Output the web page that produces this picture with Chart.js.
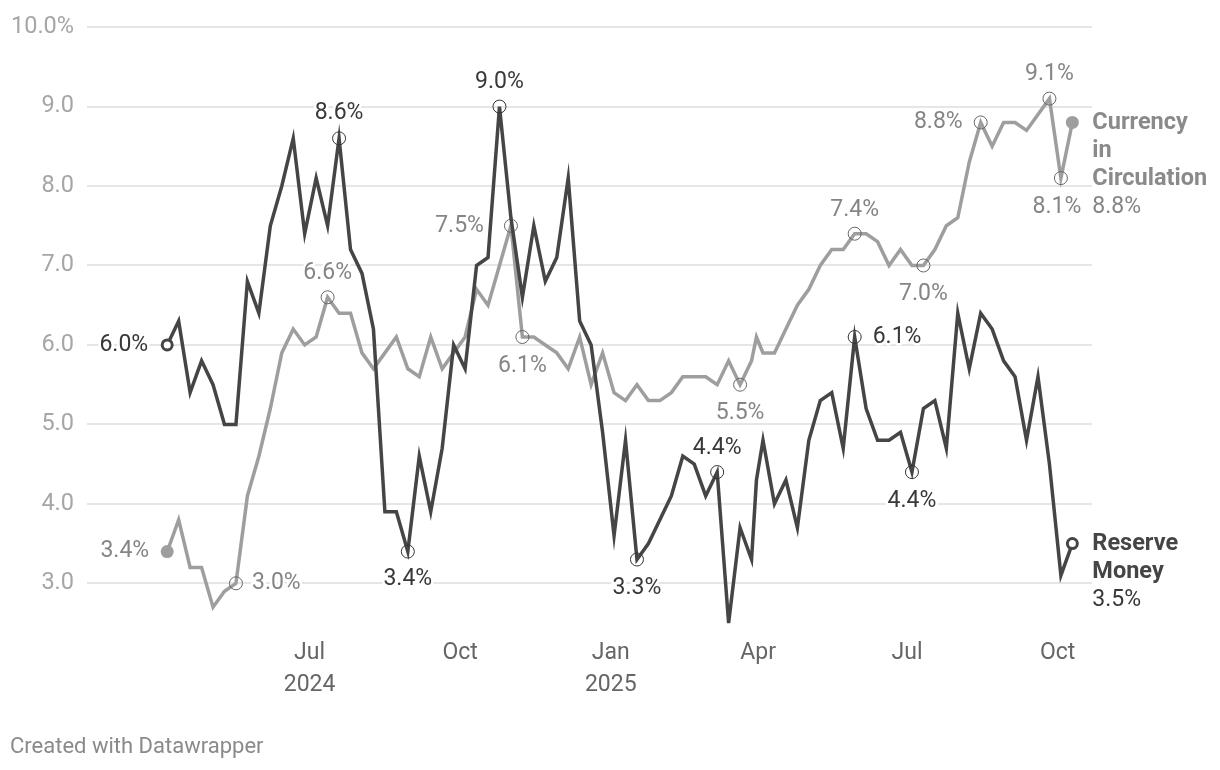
<!DOCTYPE html>
<html>
<head>
<meta charset="utf-8">
<script src="https://cdn.jsdelivr.net/npm/chart.js@4.4.1/dist/chart.umd.min.js"></script>
<style>
  html, body { margin: 0; padding: 0; background: #fff; }
  #wrap { position: relative; width: 1220px; height: 770px; }
  #footer { position: absolute; left: 10px; top: 733px; font: 22px Roboto, sans-serif; color: #8a8a8a; }
</style>
</head>
<body>
<div id="wrap">
  <canvas id="chart" width="1220" height="770"></canvas>
  <div id="footer">Created with Datawrapper</div>
</div>
<script>
// weekly (Friday) observations, plus the 31 Mar 2025 year-end figure
var dates = [
  "2024-04-05", "2024-04-12", "2024-04-19", "2024-04-26", "2024-05-03", "2024-05-10", "2024-05-17", "2024-05-24", "2024-05-31",
  "2024-06-07", "2024-06-14", "2024-06-21", "2024-06-28", "2024-07-05", "2024-07-12", "2024-07-19", "2024-07-26",
  "2024-08-02", "2024-08-09", "2024-08-16", "2024-08-23", "2024-08-30", "2024-09-06", "2024-09-13", "2024-09-20", "2024-09-27",
  "2024-10-04", "2024-10-11", "2024-10-18", "2024-10-25", "2024-11-01", "2024-11-08", "2024-11-15", "2024-11-22", "2024-11-29",
  "2024-12-06", "2024-12-13", "2024-12-20", "2024-12-27", "2025-01-03", "2025-01-10", "2025-01-17", "2025-01-24", "2025-01-31",
  "2025-02-07", "2025-02-14", "2025-02-21", "2025-02-28", "2025-03-07", "2025-03-14", "2025-03-21", "2025-03-28", "2025-03-31",
  "2025-04-04", "2025-04-11", "2025-04-18", "2025-04-25", "2025-05-02", "2025-05-09", "2025-05-16", "2025-05-23", "2025-05-30",
  "2025-06-06", "2025-06-13", "2025-06-20", "2025-06-27", "2025-07-04", "2025-07-11", "2025-07-18", "2025-07-25",
  "2025-08-01", "2025-08-08", "2025-08-15", "2025-08-22", "2025-08-29", "2025-09-05", "2025-09-12", "2025-09-19", "2025-09-26",
  "2025-10-03", "2025-10-10"
];
var reserveMoney = [
  6.0, 6.3, 5.4, 5.8, 5.5, 5.0, 5.0, 6.8, 6.4, 7.5, 8.0, 8.6, 7.4, 8.1, 7.5, 8.6, 7.2, 6.9, 6.2, 3.9,
  3.9, 3.4, 4.6, 3.9, 4.7, 6.0, 5.7, 7.0, 7.1, 9.0, 7.6, 6.6, 7.5, 6.8, 7.1, 8.1, 6.3, 6.0, 4.9, 3.6,
  4.8, 3.3, 3.5, 3.8, 4.1, 4.6, 4.5, 4.1, 4.4, 2.5, 3.7, 3.3, 4.3, 4.8, 4.0, 4.3, 3.7, 4.8, 5.3, 5.4,
  4.7, 6.1, 5.2, 4.8, 4.8, 4.9, 4.4, 5.2, 5.3, 4.7, 6.4, 5.7, 6.4, 6.2, 5.8, 5.6, 4.8, 5.6, 4.5, 3.1,
  3.5
];
var currency = [
  3.4, 3.8, 3.2, 3.2, 2.7, 2.9, 3.0, 4.1, 4.6, 5.2, 5.9, 6.2, 6.0, 6.1, 6.6, 6.4, 6.4, 5.9, 5.7, 5.9,
  6.1, 5.7, 5.6, 6.1, 5.7, 5.9, 6.1, 6.7, 6.5, 7.0, 7.5, 6.1, 6.1, 6.0, 5.9, 5.7, 6.1, 5.5, 5.9, 5.4,
  5.3, 5.5, 5.3, 5.3, 5.4, 5.6, 5.6, 5.6, 5.5, 5.8, 5.5, 5.8, 6.1, 5.9, 5.9, 6.2, 6.5, 6.7, 7.0, 7.2,
  7.2, 7.4, 7.4, 7.3, 7.0, 7.2, 7.0, 7.0, 7.2, 7.5, 7.6, 8.3, 8.8, 8.5, 8.8, 8.8, 8.7, 8.9, 9.1, 8.1,
  8.8
];
var tickDates = ["2024-07-01", "2024-10-01", "2025-01-01", "2025-04-01", "2025-07-01", "2025-10-01"];
var tickLabels = [["Jul", "2024"], ["Oct"], ["Jan", "2025"], ["Apr"], ["Jul"], ["Oct"]];
var yTicks = [3, 4, 5, 6, 7, 8, 9, 10];

// highlighted points: [dataset, index, dx, dy, align]
var labelSpecs = [
  [0, 0, -19, 0, "right"],
  [0, 15, 0, -25, "center"],
  [0, 21, 0, 28, "center"],
  [0, 29, 0, -24, "center"],
  [0, 41, 0, 29, "center"],
  [0, 48, 0, -24, "center"],
  [0, 61, 18, 0, "left"],
  [0, 66, 0, 29, "center"],
  [1, 0, -18, 0, "right"],
  [1, 6, 16, 0, "left"],
  [1, 14, 0, -24, "center"],
  [1, 30, -27, 0, "right"],
  [1, 31, 0, 29, "center"],
  [1, 50, 0, 29, "center"],
  [1, 61, 0, -23, "center"],
  [1, 67, 0, 29, "center"],
  [1, 72, -18, 0, "right"],
  [1, 78, 0, -24, "center"],
  [1, 79, -4, 29, "center"]
];
var endLabels = [
  [0, ["Reserve", "Money"]],
  [1, ["Currency", "in", "Circulation"]]
];

var RM_COLOR = "#454545";
var CIC_COLOR = "#9e9e9e";

function dayNum(s) {
  return Date.parse(s + "T00:00:00Z") / 86400000;
}

function toPoints(values) {
  return values.map(function (v, i) {
    return { x: dayNum(dates[i]), y: v };
  });
}

var marked = [[], []];
labelSpecs.forEach(function (s) {
  marked[s[0]].push(s[1]);
});
var lastIdx = dates.length - 1;

function isEnd(i) {
  return i === 0 || i === lastIdx;
}

var labelPlugin = {
  id: "pointLabels",
  afterDatasetsDraw: function (chart) {
    var ctx = chart.ctx;
    var colors = ["#383838", "#858585"];
    ctx.save();
    ctx.lineJoin = "round";
    ctx.strokeStyle = "#fff";
    ctx.lineWidth = 5;
    ctx.textBaseline = "middle";
    ctx.font = "23px Roboto";
    labelSpecs.forEach(function (s) {
      var pt = chart.getDatasetMeta(s[0]).data[s[1]];
      var txt = chart.data.datasets[s[0]].data[s[1]].y.toFixed(1) + "%";
      ctx.textAlign = s[4];
      ctx.fillStyle = colors[s[0]];
      ctx.strokeText(txt, pt.x + s[2], pt.y + s[3]);
      ctx.fillText(txt, pt.x + s[2], pt.y + s[3]);
    });
    endLabels.forEach(function (e) {
      var pt = chart.getDatasetMeta(e[0]).data[lastIdx];
      var x = pt.x + 20;
      var y = pt.y + 1;
      ctx.textAlign = "left";
      ctx.fillStyle = e[0] === 0 ? RM_COLOR : "#8a8a8a";
      ctx.font = "bold 23.5px Roboto";
      e[1].forEach(function (line, k) {
        ctx.strokeText(line, x, y + k * 28);
        ctx.fillText(line, x, y + k * 28);
      });
      ctx.font = "23px Roboto";
      ctx.fillStyle = colors[e[0]];
      var txt = chart.data.datasets[e[0]].data[lastIdx].y.toFixed(1) + "%";
      ctx.strokeText(txt, x, y + e[1].length * 28);
      ctx.fillText(txt, x, y + e[1].length * 28);
    });
    ctx.restore();
  }
};

new Chart("chart", {
  type: "line",
  data: {
    datasets: [
      {
        label: "Reserve Money",
        data: toPoints(reserveMoney),
        borderColor: RM_COLOR,
        borderWidth: 3.5,
        tension: 0,
        order: 0,
        pointRadius: function (c) {
          if (isEnd(c.dataIndex)) return 5;
          return marked[0].indexOf(c.dataIndex) >= 0 ? 6.5 : 0;
        },
        pointBorderWidth: function (c) {
          return isEnd(c.dataIndex) ? 3 : 1;
        },
        pointBorderColor: function (c) {
          return isEnd(c.dataIndex) ? RM_COLOR : "#333";
        },
        pointBackgroundColor: function (c) {
          return isEnd(c.dataIndex) ? "#fff" : "rgba(0,0,0,0)";
        },
      },
      {
        label: "Currency in Circulation",
        data: toPoints(currency),
        borderColor: CIC_COLOR,
        borderWidth: 3.5,
        tension: 0,
        order: 1,
        pointRadius: function (c) {
          if (isEnd(c.dataIndex)) return 6.5;
          return marked[1].indexOf(c.dataIndex) >= 0 ? 6.5 : 0;
        },
        pointBorderWidth: function (c) {
          return isEnd(c.dataIndex) ? 0 : 1;
        },
        pointBorderColor: "#666",
        pointBackgroundColor: function (c) {
          return isEnd(c.dataIndex) ? CIC_COLOR : "rgba(0,0,0,0)";
        },
      },
    ],
  },
  options: {
    responsive: false,
    animation: false,
    devicePixelRatio: 1,
    events: [],
    layout: {
      padding: { left: 0, right: 128, top: 23, bottom: 69 },
    },
    plugins: {
      legend: { display: false },
      tooltip: { enabled: false },
    },
    scales: {
      x: {
        type: "linear",
        min: dayNum("2024-02-16"),
        max: dayNum("2025-10-22"),
        grid: { display: false },
        border: { display: false },
        afterBuildTicks: function (scale) {
          scale.ticks = tickDates.map(function (d) {
            return { value: dayNum(d) };
          });
        },
        afterFit: function (scale) {
          scale.height = 70;
        },
        ticks: {
          autoSkip: false,
          maxRotation: 0,
          padding: -2,
          color: "#666",
          font: { family: "Roboto", size: 23, lineHeight: 1.39 },
          callback: function (value, index) {
            return tickLabels[index];
          },
        },
      },
      y: {
        min: 2.4,
        max: 10,
        grid: { color: "#e6e6e6", lineWidth: 2, drawTicks: false },
        border: { display: false },
        afterBuildTicks: function (scale) {
          scale.ticks = yTicks.map(function (v) {
            return { value: v };
          });
        },
        afterFit: function (scale) {
          scale.width = 87;
        },
        ticks: {
          padding: 13,
          color: "#a6a6a6",
          font: { family: "Roboto", size: 23.5 },
          callback: function (value) {
            return value === 10 ? "10.0%" : value.toFixed(1);
          },
        },
      },
    },
  },
  plugins: [labelPlugin],
});
</script>
</body>
</html>
